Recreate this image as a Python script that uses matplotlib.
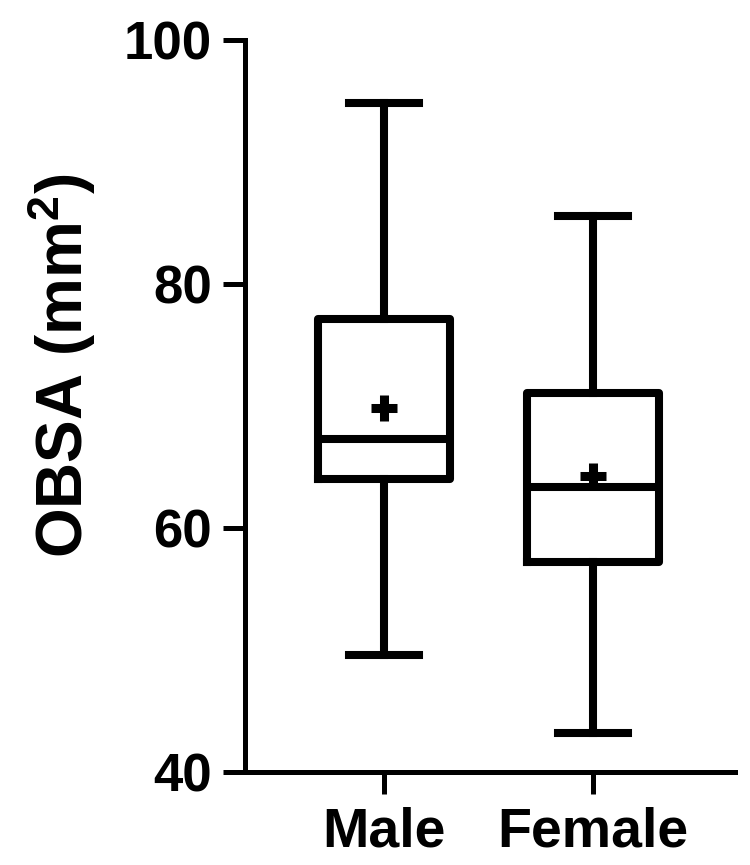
import matplotlib
matplotlib.use("Agg")
import matplotlib.pyplot as plt

plt.rcParams['font.family'] = ['Liberation Sans', 'DejaVu Sans']
plt.rcParams['font.weight'] = 'bold'
plt.rcParams['mathtext.fontset'] = 'custom'
plt.rcParams['mathtext.rm'] = 'Liberation Sans:bold'
plt.rcParams['mathtext.bf'] = 'Liberation Sans:bold'
plt.rcParams['mathtext.it'] = 'Liberation Sans:bold'

categories = ["Male", "Female"]
whisker_low = [49.6, 43.2]
q1 = [64.0, 57.2]
median = [67.3, 63.4]
q3 = [77.1, 71.1]
whisker_high = [94.8, 85.6]
mean = [69.8, 64.3]
yticks = [40, 60, 80, 100]

stats = []
for i, c in enumerate(categories):
    stats.append(dict(label=c, whislo=whisker_low[i], q1=q1[i], med=median[i],
                      q3=q3[i], whishi=whisker_high[i], mean=mean[i], fliers=[]))

fig = plt.figure(figsize=(7.5, 8.65), dpi=100)
ax = fig.add_axes([245/750, 1-772/865, 490/750, 732/865])

lw = 5.8
ax.bxp(stats, positions=[1, 2], widths=0.63, showmeans=True, showfliers=False,
       boxprops=dict(color='black', linewidth=lw),
       medianprops=dict(color='black', linewidth=lw),
       whiskerprops=dict(color='black', linewidth=lw),
       capprops=dict(color='black', linewidth=lw),
       capwidths=0.335,
       meanprops=dict(marker='+', markerfacecolor='black', markeredgecolor='black',
                      markersize=19, markeredgewidth=6.5),
       manage_ticks=False)

ax.set_xlim(0.335, 2.68)
ax.set_ylim(40, 100)
ax.set_yticks(yticks)
ax.set_xticks([1, 2])
ax.set_xticklabels(categories)
for s in ['top', 'right']:
    ax.spines[s].set_visible(False)
for s in ['left', 'bottom']:
    ax.spines[s].set_linewidth(3.6)
ax.tick_params(axis='both', length=16, width=3.6, color='black')
ax.tick_params(axis='y', labelsize=38, pad=8)
ax.tick_params(axis='x', labelsize=40, pad=9)
for lab in ax.get_xticklabels() + ax.get_yticklabels():
    lab.set_fontweight('bold')

fig.text(62/750, 1-366/865, r"OBSA (mm$^{2}$)", rotation=90, fontsize=46,
         fontweight='bold', ha='center', va='center')

fig.savefig("out.png", dpi=100)
